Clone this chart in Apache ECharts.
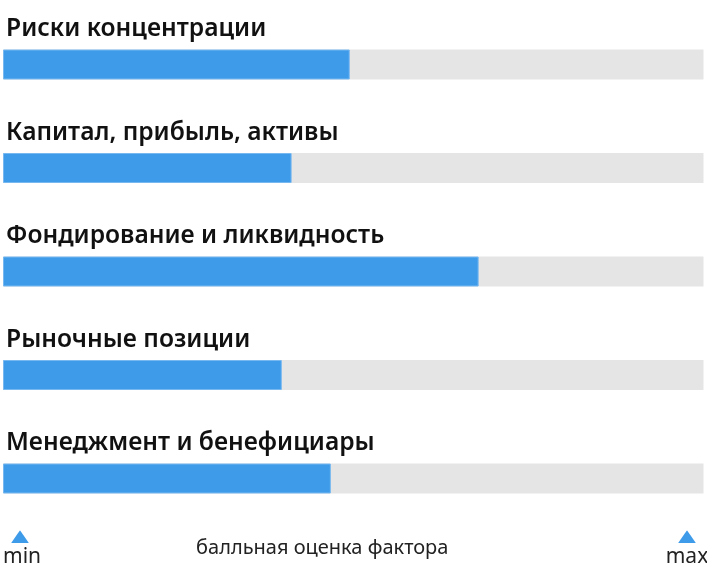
<!DOCTYPE html>
<html><head><meta charset="utf-8">
<script src="https://cdn.jsdelivr.net/npm/echarts@6/dist/echarts.min.js"></script>
<style>html,body{margin:0;padding:0;background:#fff}#c{width:707px;height:576px}</style>
</head><body><div id="c"></div>
<script>
const categories = ['Риски концентрации','Капитал, прибыль, активы','Фондирование и ликвидность','Рыночные позиции','Менеджмент и бенефициары'];
const scores = [49.5, 41.2, 67.9, 39.8, 46.8];
const axisMin = 0, axisMax = 100;
const axisTitle = 'балльная оценка фактора';
const minLabel = 'min', maxLabel = 'max';

const triSvg = 'data:image/svg+xml;charset=utf-8,' + encodeURIComponent(
  '<svg xmlns="http://www.w3.org/2000/svg" width="18" height="13" viewBox="0 0 18 13"><polygon points="9,0 18,13 0,13" fill="#3d9be9"/></svg>');

const chart = echarts.init(document.getElementById('c'));
chart.setOption({
  animation: false,
  grid: {left: 3, right: 3.5, top: 12.75, bottom: 45.75, containLabel: false, outerBoundsMode: 'none'},
  xAxis: {
    type: 'value', min: axisMin, max: axisMax,
    splitLine: {show: false}, axisLine: {show: false}, axisTick: {show: false},
    interval: 100,
    axisLabel: {
      margin: 0,
      showMinLabel: true, showMaxLabel: true,
      alignMinLabel: 'left', alignMaxLabel: 'center',
      formatter: function (v) {
        return v === axisMin
          ? '{sa| }{t| }\n{m|' + minLabel + '}'
          : '{t| }{sb| }\n{m|' + maxLabel + '}{sc| }';
      },
      rich: {
        sa: {width: 8, height: 13, lineHeight: 13},
        sb: {width: 33, height: 13, lineHeight: 13},
        sc: {width: 33, lineHeight: 28},
        t: {width: 18, height: 13, lineHeight: 13, backgroundColor: {image: triSvg}},
        m: {color: '#222', fontSize: 21, lineHeight: 28, fontFamily: 'Noto Sans'}
      }
    },
    name: axisTitle, nameLocation: 'middle', nameGap: 8, nameMoveOverlap: false,
    nameTextStyle: {color: '#222', fontSize: 20, fontFamily: 'Noto Sans', padding: [0, 62, 0, 0]}
  },
  yAxis: {
    type: 'category', data: categories, inverse: true,
    axisLine: {show: false}, axisTick: {show: false}, axisLabel: {show: false}
  },
  series: [{
    type: 'bar', data: scores, barWidth: 30,
    itemStyle: {color: '#3d9be9', borderColor: '#78b8f0', borderWidth: 1},
    showBackground: true,
    backgroundStyle: {color: '#e5e5e5'},
    label: {
      show: true, position: [3, -8], align: 'left', verticalAlign: 'bottom',
      formatter: function (p) { return p.name; },
      color: '#111', fontSize: 24.6, lineHeight: 25, fontWeight: 600, fontFamily: 'Noto Sans'
    }
  }]
});
</script></body></html>
